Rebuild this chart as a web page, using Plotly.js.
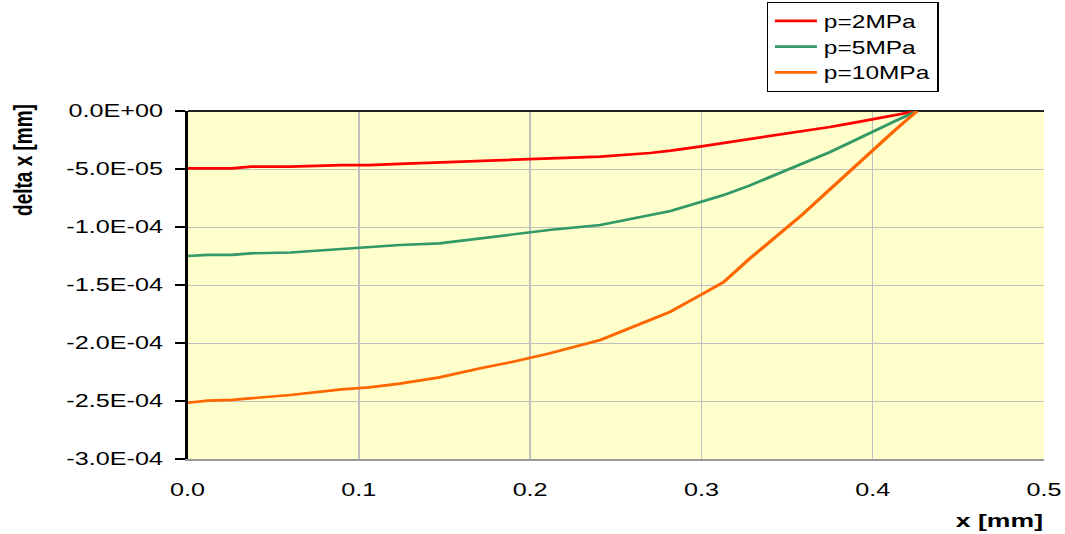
<!DOCTYPE html>
<html>
<head>
<meta charset="utf-8">
<script src="https://cdn.plot.ly/plotly-3.0.1.min.js"></script>
<style>
  html, body { margin: 0; padding: 0; background: #ffffff; overflow: hidden; }
  #chart { width: 761px; height: 534px; transform: scaleX(1.39947); transform-origin: 0 0; }
</style>
</head>
<body>
<div id="chart"></div>
<script>
// x positions along the surface [mm]
const xPos = [0, 0.012, 0.026, 0.037, 0.060, 0.090, 0.106, 0.124, 0.147, 0.171,
              0.190, 0.211, 0.241, 0.270, 0.282, 0.299, 0.313, 0.328, 0.346, 0.358,
              0.375, 0.387, 0.400, 0.413, 0.426];

// delta x [mm] for each pressure
const dx2MPa = [-4.94e-5, -4.94e-5, -4.94e-5, -4.80e-5, -4.80e-5, -4.66e-5, -4.66e-5, -4.55e-5, -4.42e-5, -4.30e-5,
                -4.20e-5, -4.10e-5, -3.94e-5, -3.62e-5, -3.42e-5, -3.07e-5, -2.77e-5, -2.42e-5, -2.05e-5, -1.78e-5,
                -1.38e-5, -1.07e-5, -0.72e-5, -0.38e-5, 0];
const dx5MPa = [-1.250e-4, -1.241e-4, -1.241e-4, -1.227e-4, -1.220e-4, -1.190e-4, -1.175e-4, -1.155e-4, -1.141e-4, -1.098e-4,
                -1.069e-4, -1.026e-4, -0.983e-4, -0.897e-4, -0.862e-4, -0.786e-4, -0.725e-4, -0.643e-4, -0.530e-4, -0.455e-4,
                -0.355e-4, -0.270e-4, -0.177e-4, -0.088e-4, 0];
const dx10MPa = [-2.515e-4, -2.497e-4, -2.490e-4, -2.475e-4, -2.448e-4, -2.400e-4, -2.382e-4, -2.350e-4, -2.296e-4, -2.218e-4,
                 -2.161e-4, -2.090e-4, -1.974e-4, -1.802e-4, -1.730e-4, -1.590e-4, -1.475e-4, -1.275e-4, -1.050e-4, -0.905e-4,
                 -0.675e-4, -0.512e-4, -0.332e-4, -0.165e-4, 0];

const seriesNames = ['p=2MPa', 'p=5MPa', 'p=10MPa'];
const seriesColors = ['#FF0000', '#339966', '#FF6600'];

const yTickVals = [0, -5e-5, -1e-4, -1.5e-4, -2e-4, -2.5e-4, -3e-4];
const yTickText = ['0.0E+00', '-5.0E-05', '-1.0E-04', '-1.5E-04', '-2.0E-04', '-2.5E-04', '-3.0E-04'];
const xTickVals = [0, 0.1, 0.2, 0.3, 0.4, 0.5];
const xTickText = ['0.0', '0.1', '0.2', '0.3', '0.4', '0.5'];

const xTitle = 'x [mm]';
const yTitle = 'delta x [mm]';

const ys = [dx2MPa, dx5MPa, dx10MPa];
const traces = ys.map((y, i) => ({
  x: xPos, y: y, type: 'scatter', mode: 'lines', name: seriesNames[i],
  line: { color: seriesColors[i], width: 2.7, shape: 'linear' }
}));

const font = 'Liberation Sans, Arial, sans-serif';

const layout = {
  width: 761, height: 534,
  margin: { l: 134, r: 15, t: 111, b: 75, autoexpand: false },
  paper_bgcolor: '#ffffff',
  plot_bgcolor: '#FFFFCC',
  font: { family: font, size: 18, color: '#000000' },
  showlegend: true,
  legend: {
    x: 0.676, y: 1.313, xanchor: 'left', yanchor: 'top',
    bgcolor: '#ffffff', bordercolor: '#000000', borderwidth: 1,
    font: { family: font, size: 17.5, color: '#000000' },
    tracegroupgap: 0
  },
  xaxis: {
    range: [0, 0.5], tickmode: 'array', tickvals: xTickVals, ticktext: xTickText,
    showgrid: true, gridcolor: '#C0C0C0', gridwidth: 1,
    zeroline: false, showline: true, linecolor: '#999999', linewidth: 1.5,
    ticks: '', ticklabelstandoff: 14,
    tickfont: { family: font, size: 18, color: '#000000' }
  },
  yaxis: {
    range: [-3e-4, 0], tickmode: 'array', tickvals: yTickVals, ticktext: yTickText,
    showgrid: true, gridcolor: '#C0C0C0', gridwidth: 1,
    zeroline: true, zerolinecolor: '#222222', zerolinewidth: 2,
    showline: true, linecolor: '#000000', linewidth: 2,
    ticks: 'outside', ticklen: 7, tickcolor: '#000000', tickwidth: 1.5,
    ticklabelstandoff: 5,
    tickfont: { family: font, size: 18, color: '#000000' }
  },
  annotations: [
    { text: '<b>' + xTitle + '</b>', xref: 'paper', yref: 'paper', x: 0.9485, y: -0.178,
      xanchor: 'center', yanchor: 'middle', showarrow: false,
      font: { family: font, size: 19, color: '#000000' } },
    { text: '<b>' + yTitle + '</b>', xref: 'paper', yref: 'paper', x: -0.193, y: 0.859,
      xanchor: 'center', yanchor: 'middle', showarrow: false, textangle: -90,
      font: { family: font, size: 19, color: '#000000' } }
  ]
};

Plotly.newPlot('chart', traces, layout, { staticPlot: true, displayModeBar: false });
</script>
</body>
</html>
